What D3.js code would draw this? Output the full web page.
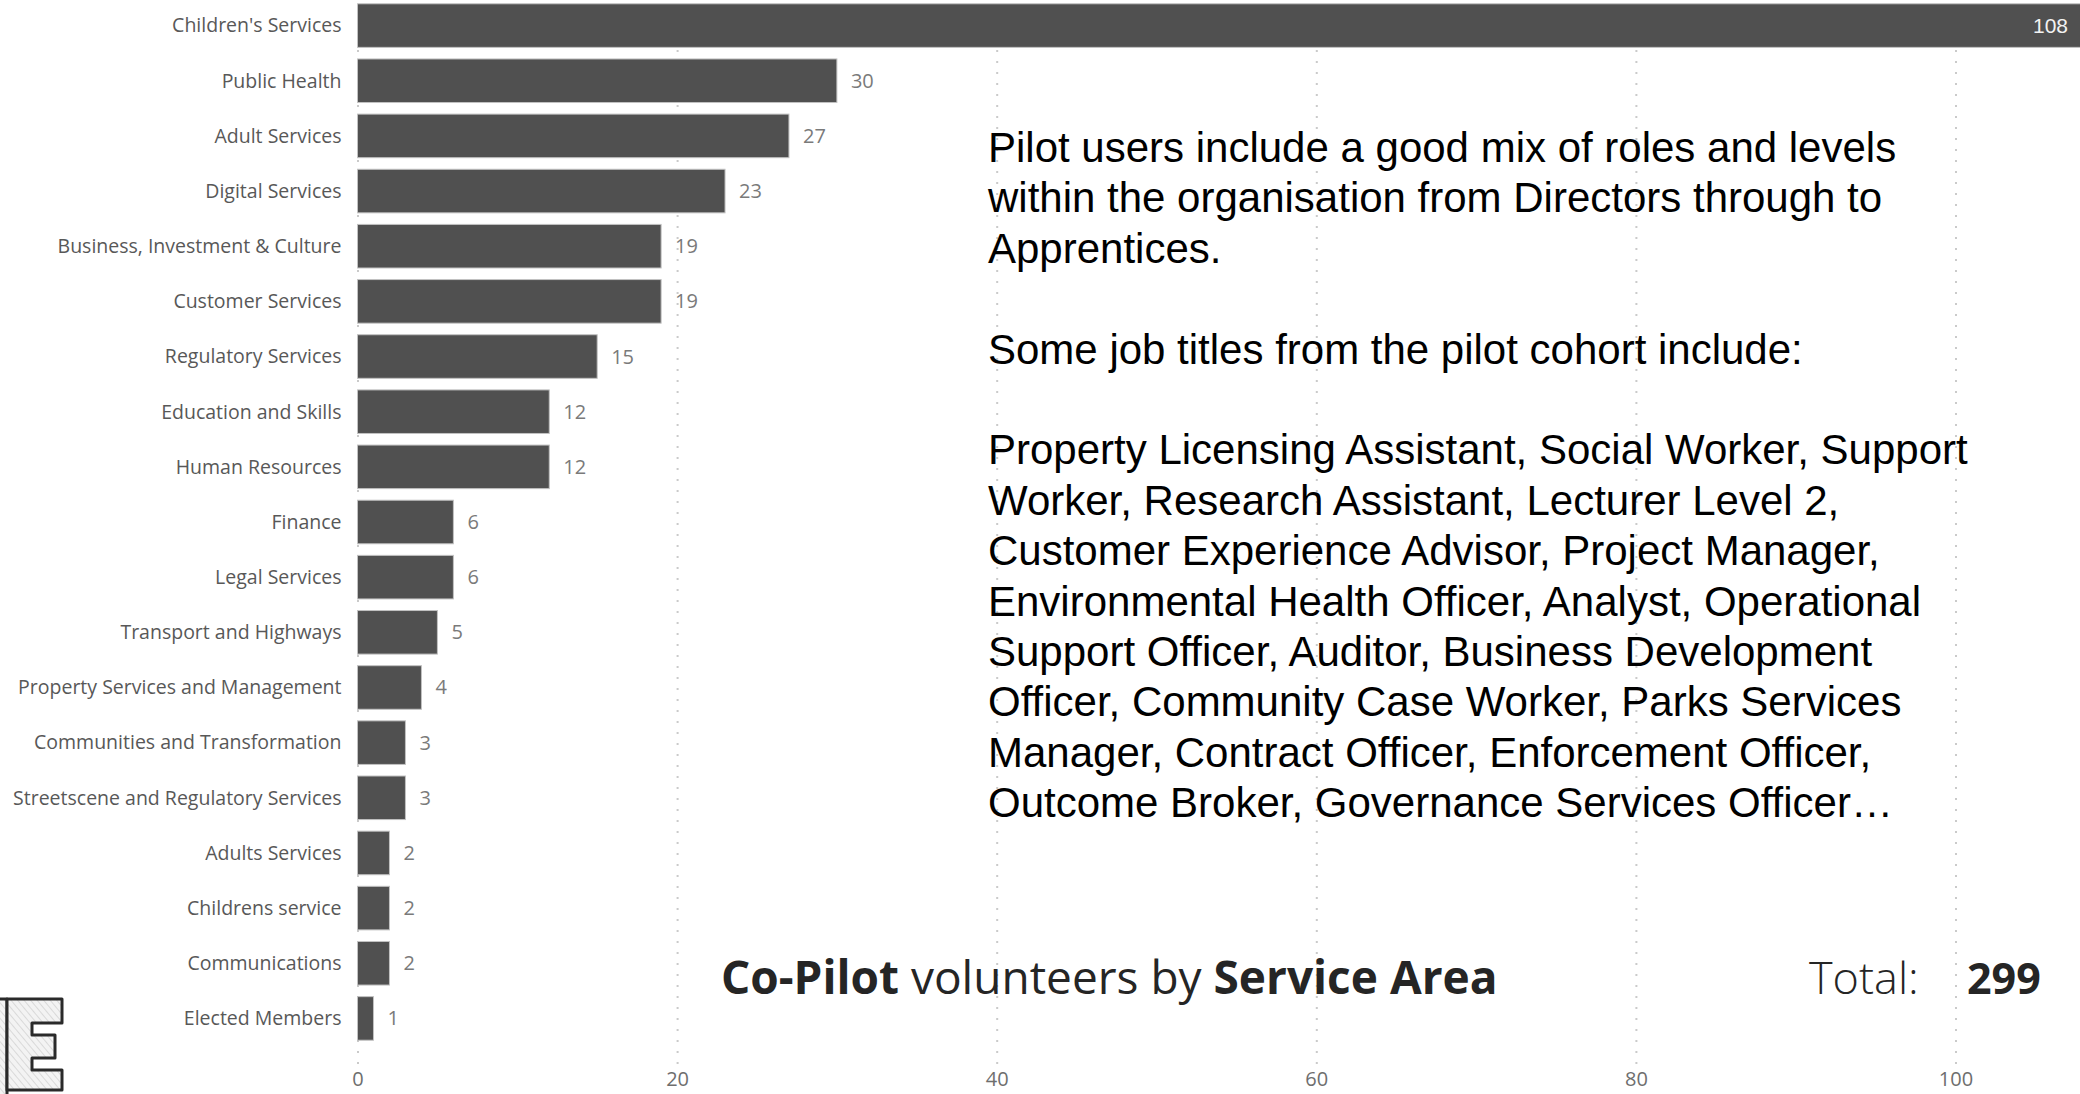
<!DOCTYPE html>
<html>
<head>
<meta charset="utf-8">
<script src="https://cdn.jsdelivr.net/npm/d3@7"></script>
<style>
    html, body { margin: 0; padding: 0; background: #fff; }
    svg { display: block; }
</style>
</head>
<body>
<svg id="chart"></svg>
<script>
/**
 * Data.
 */
const categories = [
    "Children's Services", 'Public Health', 'Adult Services', 'Digital Services',
    'Business, Investment & Culture', 'Customer Services', 'Regulatory Services',
    'Education and Skills', 'Human Resources', 'Finance', 'Legal Services',
    'Transport and Highways', 'Property Services and Management',
    'Communities and Transformation', 'Streetscene and Regulatory Services',
    'Adults Services', 'Childrens service', 'Communications', 'Elected Members'
];
const values = [108, 30, 27, 23, 19, 19, 15, 12, 12, 6, 6, 5, 4, 3, 3, 2, 2, 2, 1];
const xTicks = [0, 20, 40, 60, 80, 100];

const noteLines = [
    'Pilot users include a good mix of roles and levels',
    'within the organisation from Directors through to',
    'Apprentices.',
    '',
    'Some job titles from the pilot cohort include:',
    '',
    'Property Licensing Assistant, Social Worker, Support',
    'Worker, Research Assistant, Lecturer Level 2,',
    'Customer Experience Advisor, Project Manager,',
    'Environmental Health Officer, Analyst, Operational',
    'Support Officer, Auditor, Business Development',
    'Officer, Community Case Worker, Parks Services',
    'Manager, Contract Officer, Enforcement Officer,',
    'Outcome Broker, Governance Services Officer\u2026'
];

/**
 * Visual configs.
 */
const visWidth = 2080, visHeight = 1094;
const margin = { top: -2, left: 357.5, bottom: 48 };
const plotBottom = visHeight - margin.bottom; // bottom of the band range
const axisY = 1064;
const uiFont = '"Open Sans", "Noto Sans", sans-serif';

const svg = d3.select('#chart')
    .attr('width', visWidth)
    .attr('height', visHeight)
    .style('font-family', uiFont);

svg.append('rect').attr('width', visWidth).attr('height', visHeight).attr('fill', '#fff');

/**
 * D3.
 */
const xScale = d3.scaleLinear().domain([0, 100]).range([margin.left, 1955.5]);
const yScale = d3.scaleBand()
    .domain(categories)
    .range([margin.top, plotBottom])
    .paddingInner(0.21)
    .paddingOuter(0.105);

const rows = categories.map((c, i) => ({ label: c, value: values[i] }));

/**
 * Grid + axis.
 */
const xAxis = d3.axisBottom(xScale)
    .tickValues(xTicks)
    .tickSize(-axisY)
    .tickPadding(8)
    .tickFormat(d3.format('d'));

const axisG = svg.append('g')
    .attr('class', 'x-axis')
    .attr('transform', `translate(0,${axisY})`)
    .call(xAxis);
axisG.select('.domain').remove();
axisG.selectAll('.tick line')
    .attr('stroke', '#cacaca')
    .attr('stroke-width', 2)
    .attr('stroke-dasharray', '2,9');
axisG.selectAll('.tick text')
    .attr('fill', '#6e6e6e')
    .style('font-family', uiFont)
    .style('font-size', '20px');

/**
 * Bars.
 */
svg.append('g').attr('class', 'bars')
    .selectAll('rect')
    .data(rows)
    .join('rect')
        .attr('x', xScale(0))
        .attr('y', d => yScale(d.label))
        .attr('width', d => xScale(d.value) - xScale(0))
        .attr('height', yScale.bandwidth())
        .attr('fill', '#505050')
        .attr('stroke', '#c2c2c2')
        .attr('stroke-width', 1);

// category labels
svg.append('g').attr('class', 'y-labels')
    .selectAll('text')
    .data(rows)
    .join('text')
        .attr('x', margin.left - 16)
        .attr('y', d => yScale(d.label) + yScale.bandwidth() / 2)
        .attr('dy', '0.35em')
        .attr('text-anchor', 'end')
        .attr('fill', '#585858')
        .style('font-size', '19.5px')
        .text(d => d.label);

// value labels: outside the bar, or inside when the bar runs off the page
svg.append('g').attr('class', 'values')
    .selectAll('text')
    .data(rows)
    .join('text')
        .each(function(d) {
            const inside = xScale(d.value) > 1950;
            d3.select(this)
                .attr('x', inside ? visWidth - 12 : xScale(d.value) + 14)
                .attr('text-anchor', inside ? 'end' : 'start')
                .attr('fill', inside ? '#f2f2f2' : '#7a7a7a')
                .style('font-family', inside ? '"Liberation Sans", Arial, sans-serif' : uiFont)
                .style('font-size', inside ? '21px' : '20px');
        })
        .attr('y', d => yScale(d.label) + yScale.bandwidth() / 2)
        .attr('dy', '0.35em')
        .text(d => d.value);

/**
 * Notes.
 */
svg.append('g').attr('class', 'notes')
    .selectAll('text')
    .data(noteLines)
    .join('text')
        .attr('x', 988)
        .attr('y', (d, i) => 162 + i * 50.4)
        .attr('fill', '#000')
        .style('font-family', '"Liberation Sans", Arial, sans-serif')
        .style('font-size', '42px')
        .text(d => d);

/**
 * Title and total.
 */
const title = svg.append('text')
    .attr('x', 721)
    .attr('y', 994)
    .attr('fill', '#252525')
    .style('font-size', '46px');
title.append('tspan').attr('font-weight', 700).text('Co-Pilot');
title.append('tspan').attr('font-weight', 400).text(' volunteers by ');
title.append('tspan').attr('font-weight', 700).text('Service Area');

svg.append('text')
    .attr('x', 1809).attr('y', 994)
    .attr('fill', '#252525')
    .attr('font-weight', 300)
    .style('font-size', '45px')
    .text('Total:');
svg.append('text')
    .attr('x', 1967).attr('y', 994)
    .attr('fill', '#252525')
    .attr('font-weight', 700)
    .style('font-size', '43px')
    .text(d3.sum(values));

/**
 * Sketchy "E" logo fragment, bottom left.
 */
const defs = svg.append('defs');
const hatch = defs.append('pattern')
    .attr('id', 'hatch')
    .attr('patternUnits', 'userSpaceOnUse')
    .attr('width', 5).attr('height', 5)
    .attr('patternTransform', 'rotate(-40)');
hatch.append('rect').attr('width', 5).attr('height', 5).attr('fill', '#f3f3f3');
hatch.append('line').attr('x1', 0).attr('y1', 0).attr('x2', 0).attr('y2', 5)
    .attr('stroke', '#c0c0c0').attr('stroke-width', 1);

const logo = svg.append('g').attr('class', 'logo')
    .attr('fill', 'url(#hatch)')
    .attr('stroke', '#2a2a2a')
    .attr('stroke-width', 3)
    .attr('stroke-linejoin', 'round');
logo.append('rect').attr('x', -10).attr('y', 999).attr('width', 17).attr('height', 100);
logo.append('path')
    .attr('d', 'M7,999 L62,999 L62,1023 L32,1023 L32,1035 L55,1035 L55,1058 L32,1058 L32,1070 L62,1070 L62,1090 L7,1090 Z');
</script>
</body>
</html>
